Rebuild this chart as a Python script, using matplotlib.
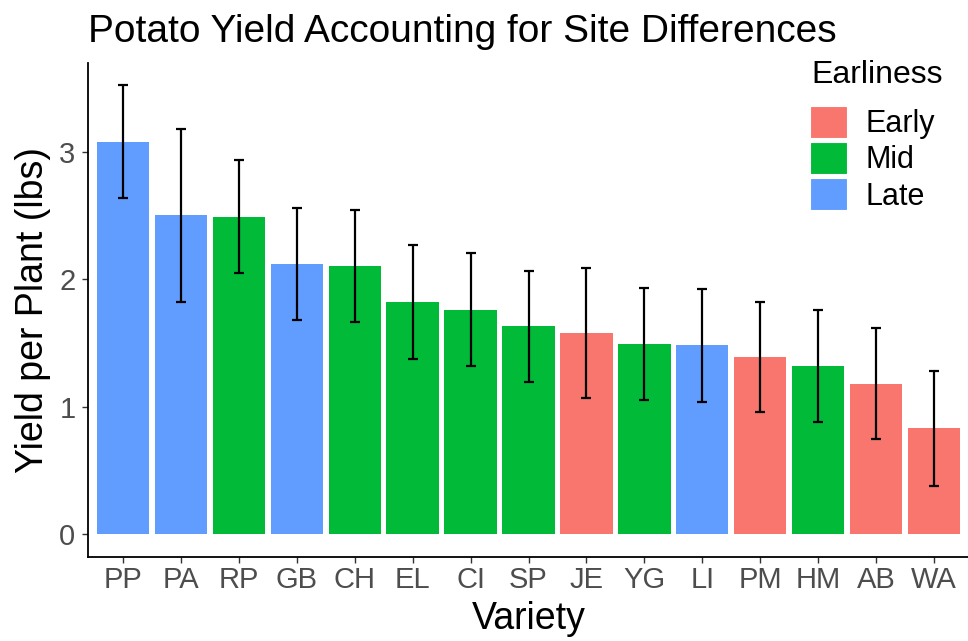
import matplotlib
matplotlib.use("Agg")
from matplotlib import pyplot as plt
from matplotlib.patches import Patch

plt.rcParams['font.family'] = ['Liberation Sans', 'DejaVu Sans']

variedades = ["PP", "PA", "RP", "GB", "CH", "EL", "CI", "SP", "JE", "YG", "LI", "PM", "HM", "AB", "WA"]
produtividade = [3.08, 2.50, 2.49, 2.12, 2.10, 1.82, 1.76, 1.63, 1.58, 1.49, 1.48, 1.39, 1.32, 1.18, 0.83]
erro = [0.44, 0.68, 0.445, 0.44, 0.44, 0.45, 0.445, 0.436, 0.51, 0.44, 0.445, 0.43, 0.44, 0.435, 0.45]
precocidade = ["Late", "Late", "Mid", "Late", "Mid", "Mid", "Mid", "Mid", "Early", "Mid", "Late", "Early", "Mid", "Early", "Early"]

grupos = ["Early", "Mid", "Late"]
cores = {"Early": "#F8766D", "Mid": "#00BA38", "Late": "#619CFF"}

fig = plt.figure(figsize=(9.68, 6.41), dpi=100)
ax = fig.add_axes([88/968, 1-556.5/641, (969-88)/968, (556.5-63)/641])

x = list(range(len(variedades)))
ax.bar(x, produtividade, width=0.9, color=[cores[p] for p in precocidade], zorder=2)
ax.errorbar(x, produtividade, yerr=erro, fmt="none", ecolor="black",
            elinewidth=1.6, capsize=3.6, capthick=1.6, zorder=3)

# limites no estilo do ggplot (expansao de 5% e 0.6 unidades)
topo = max(p + e for p, e in zip(produtividade, erro))
ax.set_xlim(-0.6, len(variedades) - 0.4)
ax.set_ylim(-0.05*topo, topo*1.05)

ax.set_xticks(x)
ax.set_xticklabels(variedades)
ax.set_yticks([0, 1, 2, 3])
ax.tick_params(axis="both", colors="#333333", labelcolor="#4D4D4D", labelsize=21, length=4, width=1)
ax.tick_params(axis="x", pad=3)
ax.tick_params(axis="y", pad=5)

for lado in ["top", "right"]:
    ax.spines[lado].set_visible(False)
for lado in ["left", "bottom"]:
    ax.spines[lado].set_linewidth(1.3)
    ax.spines[lado].set_color("black")

ax.set_title("Potato Yield Accounting for Site Differences", loc="left", fontsize=28, pad=15)
ax.set_xlabel("Variety", fontsize=27, labelpad=5)
ax.set_ylabel("Yield per Plant (lbs)", fontsize=27, labelpad=6)

# titulo da legenda separado, para controlar o espaco
fig.text(811/968, 1-83/641, "Earliness", fontsize=23, ha="left", va="baseline")
alcas = [Patch(facecolor=cores[g], edgecolor="white", linewidth=0.8) for g in grupos]
leg = fig.legend(alcas, grupos, loc="upper left",
                 bbox_to_anchor=(810/968, 1-106/641), frameon=False,
                 fontsize=22, handlelength=1.22, handleheight=1.22,
                 labelspacing=0.1, handletextpad=0.6, borderpad=0, borderaxespad=0)

fig.savefig("out.png", dpi=100)
